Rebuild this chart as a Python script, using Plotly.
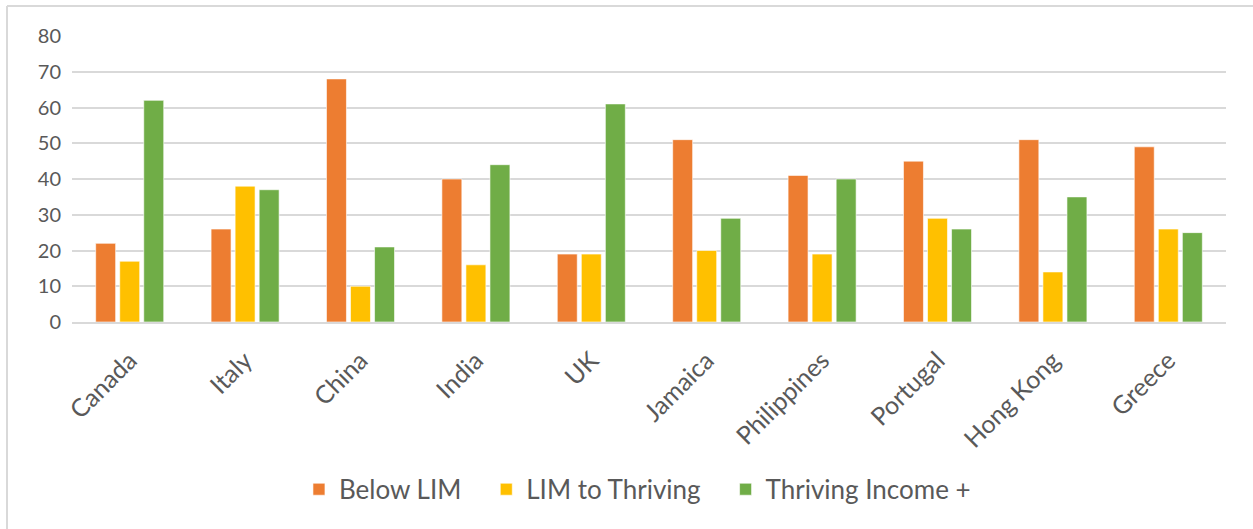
import plotly.graph_objects as go

categories = ["Canada", "Italy", "China", "India", "UK", "Jamaica",
              "Philippines", "Portugal", "Hong Kong", "Greece"]
below_lim = [22, 26, 68, 40, 19, 51, 41, 45, 51, 49]
lim_to_thriving = [17, 38, 10, 16, 19, 20, 19, 29, 14, 26]
thriving_plus = [62, 37, 21, 44, 61, 29, 40, 26, 35, 25]
series_names = ["Below LIM", "LIM to Thriving", "Thriving Income +"]
series_colors = ["#ED7D31", "#FFC000", "#70AD47"]

pad = "\u00a0\u00a0\u00a0"
fig = go.Figure()
for i, (name, vals, color) in enumerate(zip(series_names,
                                            [below_lim, lim_to_thriving, thriving_plus],
                                            series_colors)):
    fig.add_trace(go.Bar(
        x=categories, y=vals, name=name + (pad if i < 2 else ""),
        marker=dict(color=color, line=dict(color="rgba(255,255,255,0.6)", width=1)),
    ))

font_family = "Lato, Open Sans, Liberation Sans, sans-serif"
fig.update_layout(
    width=1253, height=529,
    margin=dict(l=72, r=27, t=36, b=207),
    paper_bgcolor="white", plot_bgcolor="white",
    barmode="group", bargap=0.375, bargroupgap=0.17,
    font=dict(family=font_family, color="#595959", size=19),
    showlegend=True,
    legend=dict(orientation="h", x=0.49, xanchor="center", y=-0.585, yanchor="middle",
                font=dict(size=26, color="#595959"), itemwidth=30,
                traceorder="normal"),
    xaxis=dict(tickangle=-45, tickfont=dict(size=25, color="#595959"),
               showgrid=False, showline=True, linecolor="#D9D9D9", linewidth=2,
               ticks="", ticklabelstandoff=12),
    yaxis=dict(range=[0, 80], dtick=10, showgrid=True, gridcolor="#D9D9D9",
               gridwidth=2, zeroline=False, showline=False,
               tickfont=dict(size=20, color="#595959"), ticks="",
               ticklabelstandoff=10),
    shapes=[
        dict(type="line", xref="paper", yref="paper", x0=-65/1154, x1=1.1,
             y0=1 + 30/286, y1=1 + 30/286, line=dict(color="#D9D9D9", width=2)),
        dict(type="line", xref="paper", yref="paper", x0=-65/1154, x1=-65/1154,
             y0=1 + 30/286, y1=-0.8, line=dict(color="#D9D9D9", width=2)),
    ],
)

fig.write_html("out.html")
